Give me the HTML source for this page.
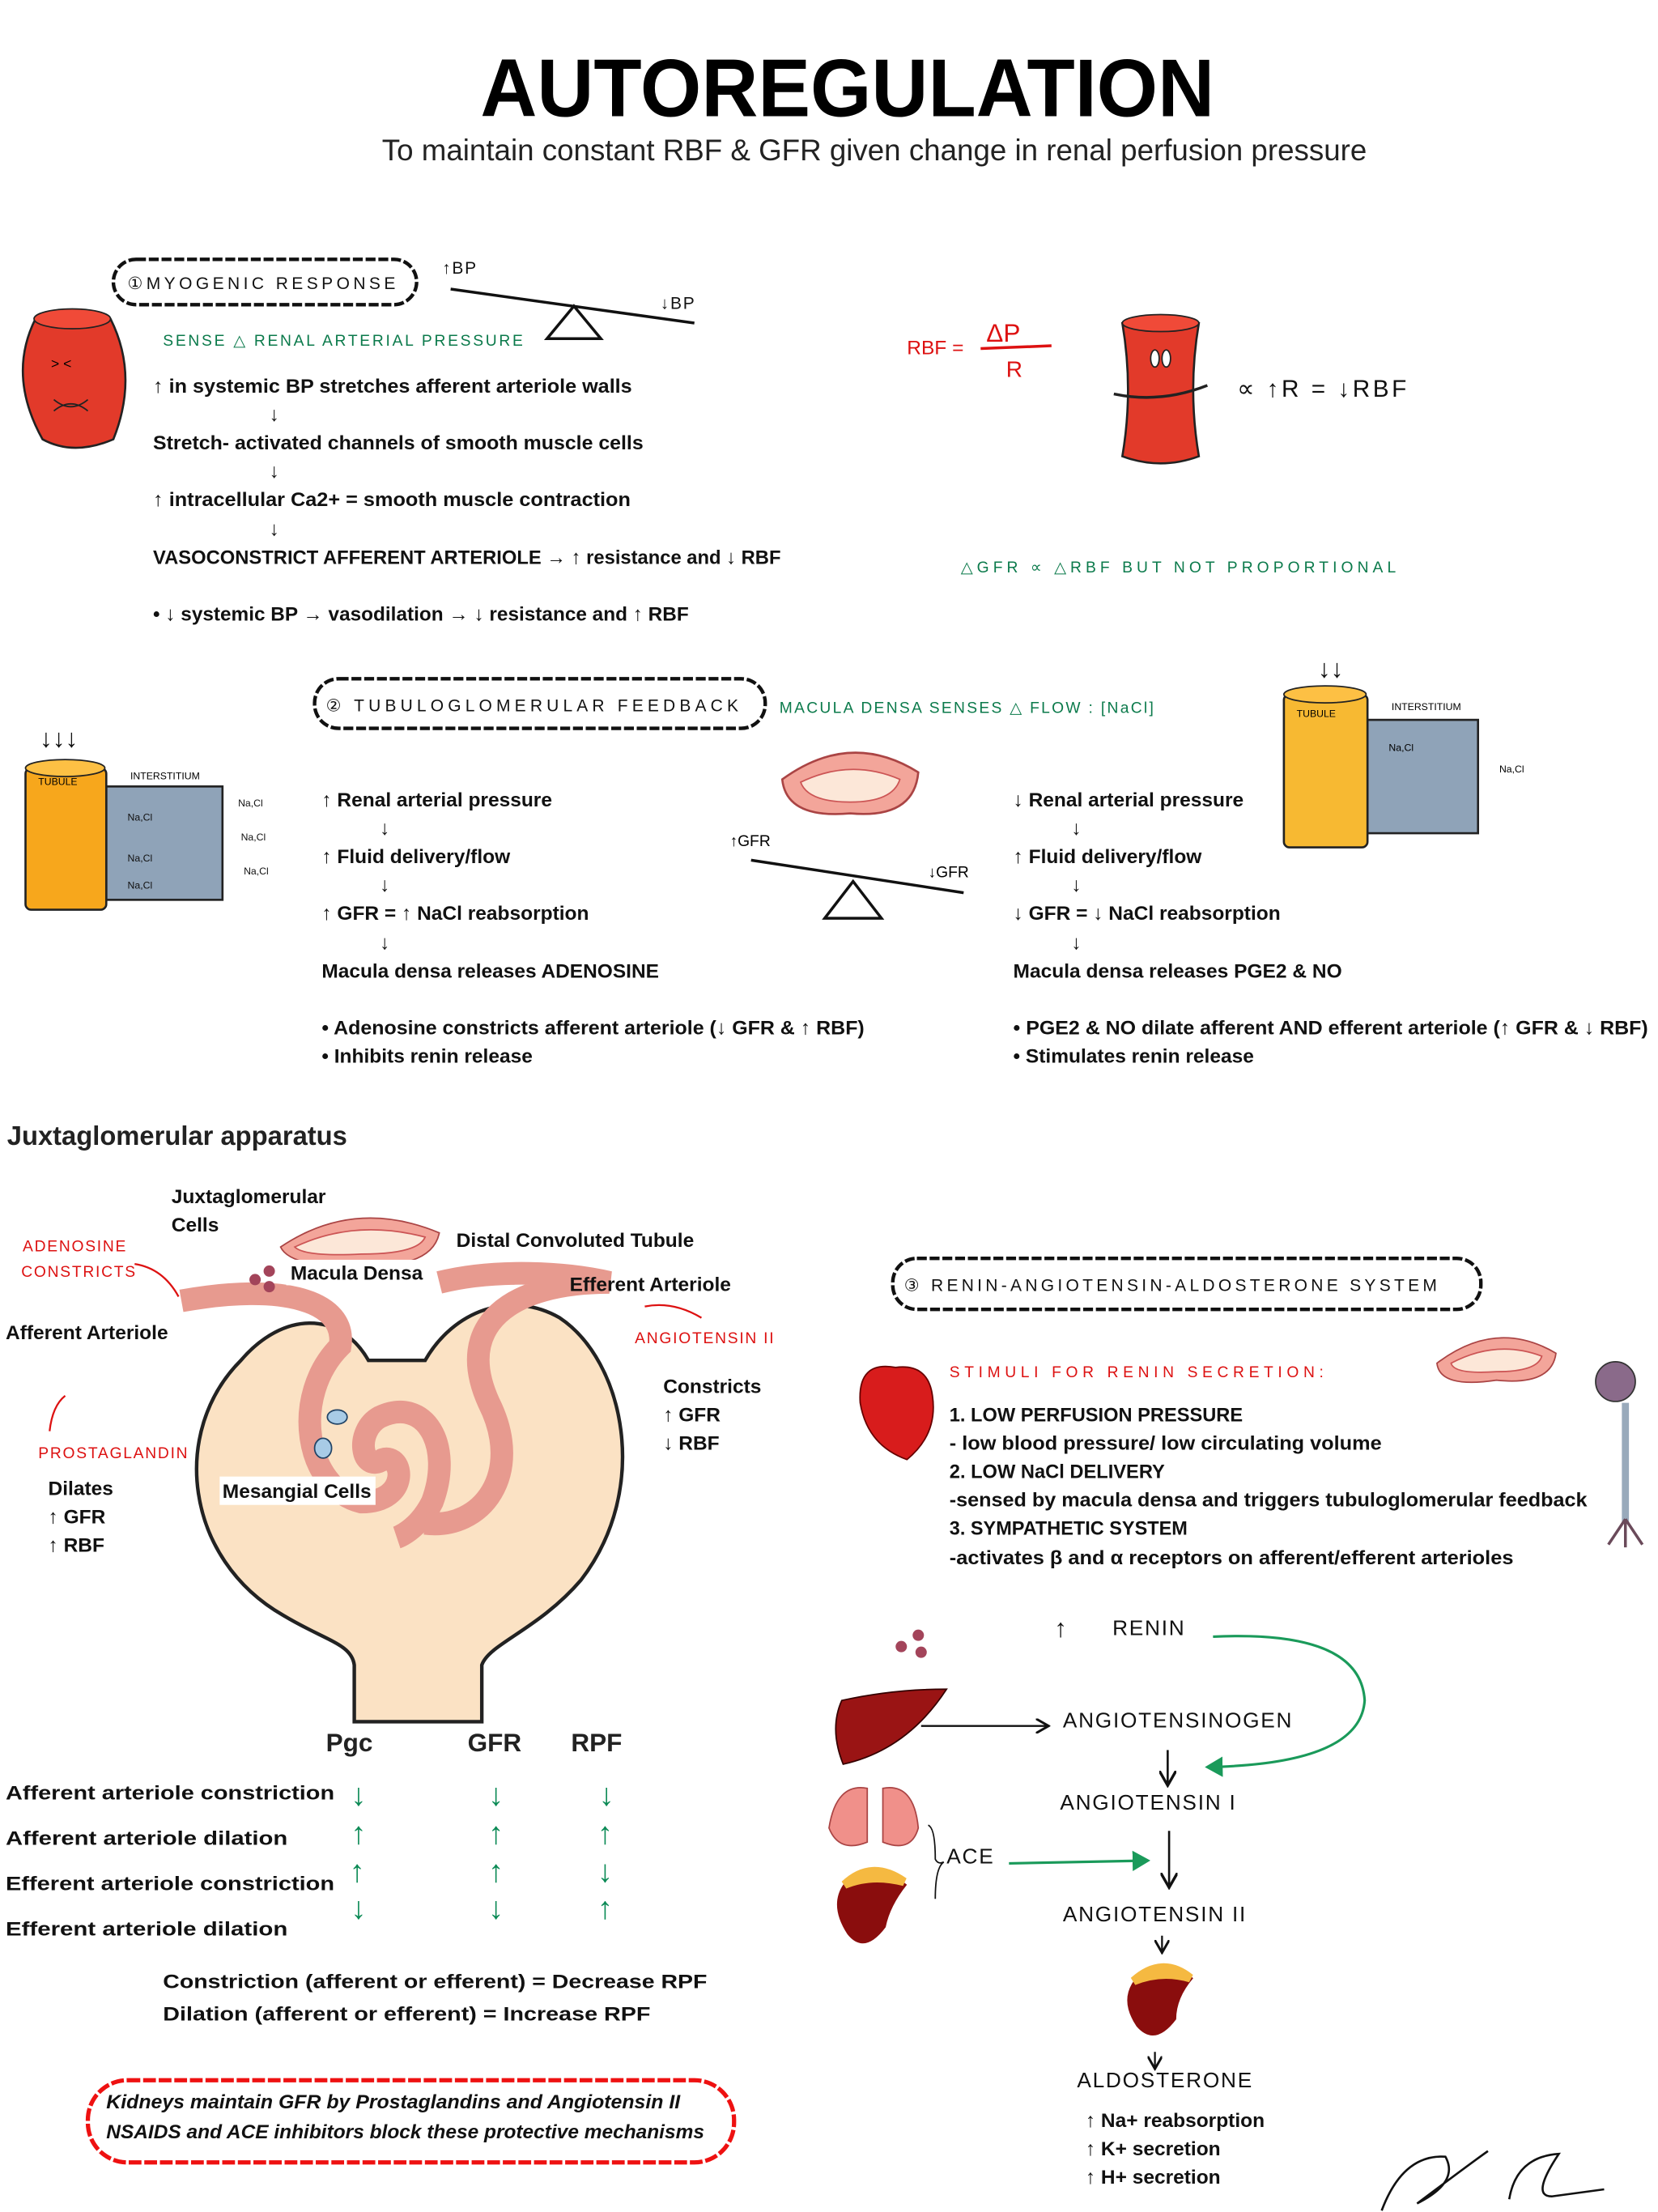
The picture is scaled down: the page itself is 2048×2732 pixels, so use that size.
<!DOCTYPE html>
<html><head><meta charset="utf-8"><style>
html,body{margin:0;padding:0;background:#fff;width:2048px;height:2732px;overflow:hidden}
svg{display:block}
text{font-family:"Liberation Sans",sans-serif}
.b{font-weight:bold;font-size:14px;fill:#111}
.h{font-size:12px;fill:#111;letter-spacing:1px}
.g{fill:#0b7a4b;font-size:11px;letter-spacing:1px}
.r{fill:#d11;font-size:11px;letter-spacing:1px}
</style></head><body>
<svg width="2048" height="2732" viewBox="0 0 1170 1561" preserveAspectRatio="none" xmlns="http://www.w3.org/2000/svg">
<defs>
<marker id="ab" markerWidth="8" markerHeight="8" refX="7" refY="4" orient="auto"><path d="M0,0 L7,4 L0,8" fill="none" stroke="#111" stroke-width="1.3"/></marker>
<marker id="ag" markerWidth="8" markerHeight="8" refX="6" refY="4" orient="auto"><path d="M0,0 L7,4 L0,8z" fill="#1a9a5a"/></marker>
</defs>
<text x="598" y="82" text-anchor="middle" font-size="58" font-weight="bold" textLength="518" lengthAdjust="spacingAndGlyphs" fill="#000">AUTOREGULATION</text>
<text x="617" y="113" text-anchor="middle" font-size="21" fill="#222" textLength="695" lengthAdjust="spacingAndGlyphs">To maintain constant RBF &amp; GFR given change in renal perfusion pressure</text>

<rect x="80" y="183" width="214" height="32" rx="16" fill="#fff" stroke="#111" stroke-width="2.5" stroke-dasharray="7 2"/>
<text x="90" y="204" class="h" textLength="190">①MYOGENIC RESPONSE</text>
<text x="312" y="193" class="h">↑BP</text><text x="466" y="218" class="h">↓BP</text>
<line x1="318" y1="204" x2="490" y2="228" stroke="#111" stroke-width="2"/>
<polygon points="405,216 386,239 424,239" fill="#fff" stroke="#111" stroke-width="2"/>
<text x="115" y="244" class="g" textLength="255">SENSE △ RENAL ARTERIAL PRESSURE</text>
<path d="M25,225 Q52,212 78,225 Q98,265 80,310 Q52,322 30,310 Q5,265 25,225z" fill="#e23a2a" stroke="#222" stroke-width="1.5"/>
<ellipse cx="51" cy="225" rx="27" ry="7" fill="#f04a38" stroke="#222"/>
<text x="36" y="260" font-size="10">&gt; &lt;</text><path d="M38,290 Q50,280 62,290 M38,282 Q50,292 62,282" stroke="#222" fill="none"/>
<text x="108" y="277" class="b" textLength="338" lengthAdjust="spacingAndGlyphs">↑ in systemic BP stretches afferent arteriole walls</text>
<text x="190" y="297" class="b">↓</text>
<text x="108" y="317" class="b" textLength="346" lengthAdjust="spacingAndGlyphs">Stretch- activated channels of smooth muscle cells</text>
<text x="190" y="337" class="b">↓</text>
<text x="108" y="357" class="b" textLength="337" lengthAdjust="spacingAndGlyphs">↑ intracellular Ca2+ = smooth muscle contraction</text>
<text x="190" y="378" class="b">↓</text>
<text x="108" y="398" class="b" textLength="443" lengthAdjust="spacingAndGlyphs">VASOCONSTRICT AFFERENT ARTERIOLE → ↑ resistance and ↓ RBF</text>
<text x="108" y="438" class="b" textLength="378" lengthAdjust="spacingAndGlyphs">• ↓ systemic BP → vasodilation → ↓ resistance and ↑ RBF</text>

<text x="640" y="250" fill="#d11" font-size="14">RBF =</text>
<text x="696" y="241" fill="#d11" font-size="18">ΔP</text><line x1="692" y1="246" x2="742" y2="244" stroke="#d11" stroke-width="2"/>
<text x="710" y="266" fill="#d11" font-size="16">R</text>
<path d="M792,228 Q819,222 846,228 Q838,275 846,322 Q819,332 792,322 Q800,275 792,228z" fill="#e23a2a" stroke="#222" stroke-width="1.5"/>
<ellipse cx="819" cy="228" rx="27" ry="6" fill="#f04a38" stroke="#222"/>
<ellipse cx="815" cy="253" rx="3" ry="6" fill="#fff" stroke="#222"/><ellipse cx="823" cy="253" rx="3" ry="6" fill="#fff" stroke="#222"/>
<path d="M786,278 Q819,285 852,272" stroke="#222" stroke-width="2" fill="none"/>
<text x="873" y="280" font-size="17" fill="#111" letter-spacing="2">∝ ↑R = ↓RBF</text>
<text x="678" y="404" class="g" font-size="13" textLength="308">△GFR ∝ △RBF BUT NOT PROPORTIONAL</text>

<rect x="222" y="479" width="318" height="35" rx="17" fill="#fff" stroke="#111" stroke-width="2.5" stroke-dasharray="7 2"/>
<text x="230" y="502" class="h" textLength="292">② TUBULOGLOMERULAR FEEDBACK</text>
<text x="550" y="503" class="g" textLength="265">MACULA DENSA SENSES △ FLOW : [NaCl]</text>

<text x="28" y="527" font-size="18" fill="#111">↓↓↓</text>
<rect x="75" y="555" width="82" height="80" fill="#8fa3b8" stroke="#222" stroke-width="1.5"/>
<rect x="18" y="542" width="57" height="100" rx="4" fill="#f7a71c" stroke="#222" stroke-width="1.5"/>
<ellipse cx="46" cy="542" rx="28" ry="6" fill="#fdc044" stroke="#222"/>
<text x="27" y="554" font-size="7">TUBULE</text><text x="92" y="550" font-size="7">INTERSTITIUM</text>
<g font-size="7" fill="#111"><text x="90" y="579">Na,Cl</text><text x="90" y="608">Na,Cl</text><text x="90" y="627">Na,Cl</text><text x="168" y="569">Na,Cl</text><text x="170" y="593">Na,Cl</text><text x="172" y="617">Na,Cl</text></g>
<text x="930" y="478" font-size="18" fill="#111">↓↓</text>
<rect x="965" y="508" width="78" height="80" fill="#8fa3b8" stroke="#222" stroke-width="1.5"/>
<rect x="906" y="490" width="59" height="108" rx="4" fill="#f7b932" stroke="#222" stroke-width="1.5"/>
<ellipse cx="935" cy="490" rx="29" ry="6" fill="#fdc044" stroke="#222"/>
<text x="915" y="506" font-size="7">TUBULE</text><text x="982" y="501" font-size="7">INTERSTITIUM</text>
<text x="980" y="530" font-size="7">Na,Cl</text><text x="1058" y="545" font-size="7">Na,Cl</text>

<text x="227" y="569" class="b">↑ Renal arterial pressure</text><text x="268" y="589" class="b">↓</text>
<text x="227" y="609" class="b">↑ Fluid delivery/flow</text><text x="268" y="629" class="b">↓</text>
<text x="227" y="649" class="b">↑ GFR = ↑ NaCl reabsorption</text><text x="268" y="670" class="b">↓</text>
<text x="227" y="690" class="b" textLength="238" lengthAdjust="spacingAndGlyphs">Macula densa releases ADENOSINE</text>
<text x="227" y="730" class="b" textLength="383" lengthAdjust="spacingAndGlyphs">• Adenosine constricts afferent arteriole (↓ GFR &amp; ↑ RBF)</text>
<text x="227" y="750" class="b">• Inhibits renin release</text>

<path d="M552,550 Q600,515 648,545 Q645,578 600,574 Q555,578 552,550z" fill="#f3a59a" stroke="#a44" stroke-width="1.5"/>
<path d="M565,552 Q600,535 635,550 Q630,566 600,566 Q570,566 565,552z" fill="#fce7d8" stroke="#c55"/>
<text x="515" y="597" font-size="11">↑GFR</text><text x="655" y="619" font-size="11">↓GFR</text>
<line x1="530" y1="607" x2="680" y2="630" stroke="#111" stroke-width="2"/>
<polygon points="602,622 582,648 622,648" fill="#fff" stroke="#111" stroke-width="2"/>

<text x="715" y="569" class="b">↓ Renal arterial pressure</text><text x="756" y="589" class="b">↓</text>
<text x="715" y="609" class="b">↑ Fluid delivery/flow</text><text x="756" y="629" class="b">↓</text>
<text x="715" y="649" class="b">↓ GFR = ↓ NaCl reabsorption</text><text x="756" y="670" class="b">↓</text>
<text x="715" y="690" class="b" textLength="232" lengthAdjust="spacingAndGlyphs">Macula densa releases PGE2 &amp; NO</text>
<text x="715" y="730" class="b" textLength="448" lengthAdjust="spacingAndGlyphs">• PGE2 &amp; NO dilate afferent AND efferent arteriole (↑ GFR &amp; ↓ RBF)</text>
<text x="715" y="750" class="b">• Stimulates renin release</text>

<text x="5" y="808" font-size="19" font-weight="bold" fill="#222" textLength="240" lengthAdjust="spacingAndGlyphs">Juxtaglomerular apparatus</text>
<g>
<path d="M170,960 C120,1010 130,1100 200,1140 C230,1158 248,1160 250,1175 L250,1215 L340,1215 L340,1175 C345,1160 380,1150 410,1115 C460,1050 440,960 395,930 C360,910 320,925 300,960 L260,960 C240,925 200,925 170,960z" fill="#fbe2c4" stroke="#222" stroke-width="2.5"/>
<path d="M128,918 C200,905 245,918 240,950 C205,985 215,1050 255,1060 C290,1060 285,1025 270,1030 C255,1040 250,1010 268,1000 C300,985 320,1020 305,1060 C295,1080 280,1085 280,1085" fill="none" stroke="#e79a8f" stroke-width="16"/>
<path d="M310,905 C350,895 400,898 430,905 C360,905 320,935 345,990 C370,1040 340,1080 300,1075" fill="none" stroke="#e79a8f" stroke-width="16"/>
<path d="M198,880 Q250,845 310,870 Q305,895 255,893 Q205,895 198,880z" fill="#f3a59a" stroke="#a44"/>
<path d="M208,880 Q250,860 300,873 Q295,885 255,885 Q215,887 208,880z" fill="#fce7d8" stroke="#c55"/>
<ellipse cx="238" cy="1000" rx="7" ry="5" fill="#a8cbe6" stroke="#246"/><ellipse cx="228" cy="1022" rx="6" ry="7" fill="#a8cbe6" stroke="#246"/>
<circle cx="180" cy="903" r="4" fill="#a3445a"/><circle cx="190" cy="897" r="4" fill="#a3445a"/><circle cx="190" cy="908" r="4" fill="#a3445a"/>
</g>
<text x="121" y="849" class="b">Juxtaglomerular</text><text x="121" y="869" class="b">Cells</text>
<rect x="202" y="889" width="96" height="18" fill="#fff"/><text x="205" y="903" class="b">Macula Densa</text>
<text x="322" y="880" class="b">Distal Convoluted Tubule</text>
<text x="402" y="911" class="b">Efferent Arteriole</text>
<text x="4" y="945" class="b">Afferent Arteriole</text>
<rect x="155" y="1042" width="110" height="20" fill="#fff"/><text x="157" y="1057" class="b">Mesangial Cells</text>
<text x="468" y="983" class="b">Constricts</text><text x="468" y="1003" class="b">↑ GFR</text><text x="468" y="1023" class="b">↓ RBF</text>
<text x="34" y="1055" class="b">Dilates</text><text x="34" y="1075" class="b">↑ GFR</text><text x="34" y="1095" class="b">↑ RBF</text>
<text x="16" y="883" class="r">ADENOSINE</text><text x="15" y="901" class="r" font-size="9">CONSTRICTS</text>
<path d="M95,892 Q115,895 126,915" stroke="#d11" fill="none" stroke-width="1.3"/>
<text x="448" y="948" class="r">ANGIOTENSIN II</text>
<path d="M495,930 Q475,918 455,922" stroke="#d11" fill="none" stroke-width="1.3"/>
<text x="27" y="1029" class="r" font-size="10">PROSTAGLANDIN</text>
<path d="M35,1010 Q37,992 46,985" stroke="#d11" fill="none" stroke-width="1.3"/>

<g font-size="18" fill="#222" font-weight="bold">
<text x="230" y="1242" dy="-6">Pgc</text><text x="330" y="1242" dy="-6">GFR</text><text x="403" y="1242" dy="-6">RPF</text></g>
<text x="4" y="1270" class="b" font-size="17" textLength="232" lengthAdjust="spacingAndGlyphs">Afferent arteriole constriction</text>
<text x="4" y="1302" class="b" font-size="17" textLength="199" lengthAdjust="spacingAndGlyphs">Afferent arteriole dilation</text>
<text x="4" y="1334" class="b" font-size="17" textLength="232" lengthAdjust="spacingAndGlyphs">Efferent arteriole constriction</text>
<text x="4" y="1366" class="b" font-size="17" textLength="199" lengthAdjust="spacingAndGlyphs">Efferent arteriole dilation</text>
<g font-size="22" font-weight="bold" fill="#0b8a55" text-anchor="middle">
<text x="253" y="1274">↓</text><text x="350" y="1274">↓</text><text x="428" y="1274">↓</text>
<text x="253" y="1301">↑</text><text x="350" y="1301">↑</text><text x="427" y="1301">↑</text>
<text x="252" y="1328">↑</text><text x="350" y="1328">↑</text><text x="427" y="1328">↓</text>
<text x="253" y="1354">↓</text><text x="350" y="1354">↓</text><text x="427" y="1354">↑</text>
</g>
<text x="115" y="1403" class="b" font-size="17" textLength="384" lengthAdjust="spacingAndGlyphs">Constriction (afferent or efferent) = Decrease RPF</text>
<text x="115" y="1426" class="b" font-size="17" textLength="344" lengthAdjust="spacingAndGlyphs">Dilation (afferent or efferent) = Increase RPF</text>
<rect x="62" y="1468" width="456" height="58" rx="28" fill="#fff" stroke="#e11" stroke-width="3" stroke-dasharray="9 2"/>
<g font-size="14" font-weight="bold" font-style="italic" fill="#111">
<text x="75" y="1488" textLength="405" lengthAdjust="spacingAndGlyphs">Kidneys maintain GFR by Prostaglandins and Angiotensin II</text>
<text x="75" y="1509" textLength="422" lengthAdjust="spacingAndGlyphs">NSAIDS and ACE inhibitors block these protective mechanisms</text></g>

<rect x="630" y="888" width="415" height="36" rx="17" fill="#fff" stroke="#111" stroke-width="2.5" stroke-dasharray="7 2"/>
<text x="638" y="911" class="h" font-size="13" textLength="377">③ RENIN-ANGIOTENSIN-ALDOSTERONE SYSTEM</text>
<path d="M632,965 Q605,960 607,990 Q612,1020 640,1030 Q662,1012 658,985 Q655,962 632,965z" fill="#d81c1c" stroke="#600"/>
<text x="670" y="972" class="r" font-size="12" textLength="265">STIMULI FOR RENIN SECRETION:</text>
<path d="M1014,962 Q1056,930 1098,955 Q1095,978 1056,974 Q1016,980 1014,962z" fill="#f3a59a" stroke="#a44"/>
<path d="M1024,962 Q1056,945 1088,957 Q1085,968 1056,968 Q1026,970 1024,962z" fill="#fce7d8" stroke="#c55"/>
<circle cx="1140" cy="975" r="14" fill="#8a6a8a" stroke="#333"/>
<line x1="1147" y1="990" x2="1147" y2="1075" stroke="#9ab" stroke-width="5"/>
<path d="M1147,1072 l-12,18 M1147,1072 l0,20 M1147,1072 l12,18" stroke="#6a4a5a" stroke-width="2" fill="none"/>
<text x="670" y="1003" class="b" textLength="207" lengthAdjust="spacingAndGlyphs">1. LOW PERFUSION PRESSURE</text>
<text x="670" y="1023" class="b" textLength="305" lengthAdjust="spacingAndGlyphs">- low blood pressure/ low circulating volume</text>
<text x="670" y="1043" class="b" textLength="152" lengthAdjust="spacingAndGlyphs">2. LOW NaCl DELIVERY</text>
<text x="670" y="1063" class="b" textLength="450" lengthAdjust="spacingAndGlyphs">-sensed by macula densa and triggers tubuloglomerular feedback</text>
<text x="670" y="1083" class="b" textLength="168" lengthAdjust="spacingAndGlyphs">3. SYMPATHETIC SYSTEM</text>
<text x="670" y="1104" class="b" textLength="398" lengthAdjust="spacingAndGlyphs">-activates β and α receptors on afferent/efferent arterioles</text>
<circle cx="636" cy="1162" r="4" fill="#a3445a"/><circle cx="648" cy="1154" r="4" fill="#a3445a"/><circle cx="650" cy="1166" r="4" fill="#a3445a"/>
<g font-size="15" fill="#111" letter-spacing="1">
<text x="744" y="1155" font-size="18">↑</text><text x="785" y="1154">RENIN</text>
<text x="750" y="1219">ANGIOTENSINOGEN</text>
<text x="748" y="1277">ANGIOTENSIN  I</text>
<text x="668" y="1315">ACE</text>
<text x="750" y="1356">ANGIOTENSIN  II</text>
<text x="760" y="1473">ALDOSTERONE</text></g>
<path d="M856,1155 Q960,1150 963,1200 Q960,1245 852,1247" stroke="#1a9a5a" stroke-width="1.8" fill="none" marker-end="url(#ag)"/>
<path d="M594,1200 Q630,1192 668,1192 Q640,1235 595,1245 Q585,1220 594,1200z" fill="#9a1414" stroke="#300"/>
<line x1="650" y1="1218" x2="740" y2="1218" stroke="#111" stroke-width="1.3" marker-end="url(#ab)"/>
<line x1="824" y1="1235" x2="824" y2="1260" stroke="#111" stroke-width="1.5" marker-end="url(#ab)"/>
<path d="M585,1290 Q590,1258 612,1262 L612,1300 Q592,1308 585,1290z M648,1290 Q645,1258 623,1262 L623,1300 Q643,1308 648,1290z" fill="#f0908a" stroke="#a44"/>
<path d="M595,1330 Q615,1310 640,1330 Q628,1345 625,1360 Q610,1380 598,1365 Q585,1345 595,1330z" fill="#8a0d0d"/>
<path d="M596,1330 Q615,1312 638,1328 Q615,1322 596,1330z" fill="#f5b941" stroke="#f5b941" stroke-width="6"/>
<path d="M655,1288 Q660,1290 660,1312 Q662,1316 666,1314 Q660,1318 660,1340" stroke="#111" fill="none"/>
<line x1="712" y1="1315" x2="810" y2="1313" stroke="#1a9a5a" stroke-width="1.8" marker-end="url(#ag)"/>
<line x1="825" y1="1292" x2="825" y2="1332" stroke="#111" stroke-width="1.5" marker-end="url(#ab)"/>
<line x1="820" y1="1366" x2="820" y2="1378" stroke="#111" stroke-width="1.3" marker-end="url(#ab)"/>
<path d="M800,1398 Q820,1378 842,1396 Q830,1410 830,1425 Q815,1445 802,1430 Q790,1412 800,1398z" fill="#8a0d0d"/>
<path d="M800,1398 Q820,1380 840,1396 Q820,1390 800,1398z" fill="#f5b941" stroke="#f5b941" stroke-width="6"/>
<line x1="815" y1="1448" x2="815" y2="1460" stroke="#111" stroke-width="1.3" marker-end="url(#ab)"/>
<text x="766" y="1501" class="b">↑ Na+ reabsorption</text><text x="766" y="1521" class="b">↑ K+ secretion</text><text x="766" y="1541" class="b">↑ H+ secretion</text>
<path d="M975,1560 Q990,1520 1020,1522 Q1030,1540 1000,1555 Q1040,1525 1050,1518 M1065,1552 Q1070,1522 1100,1520 Q1080,1550 1095,1550 Q1110,1548 1132,1545" stroke="#111" stroke-width="1.5" fill="none"/>
</svg>
</body></html>
